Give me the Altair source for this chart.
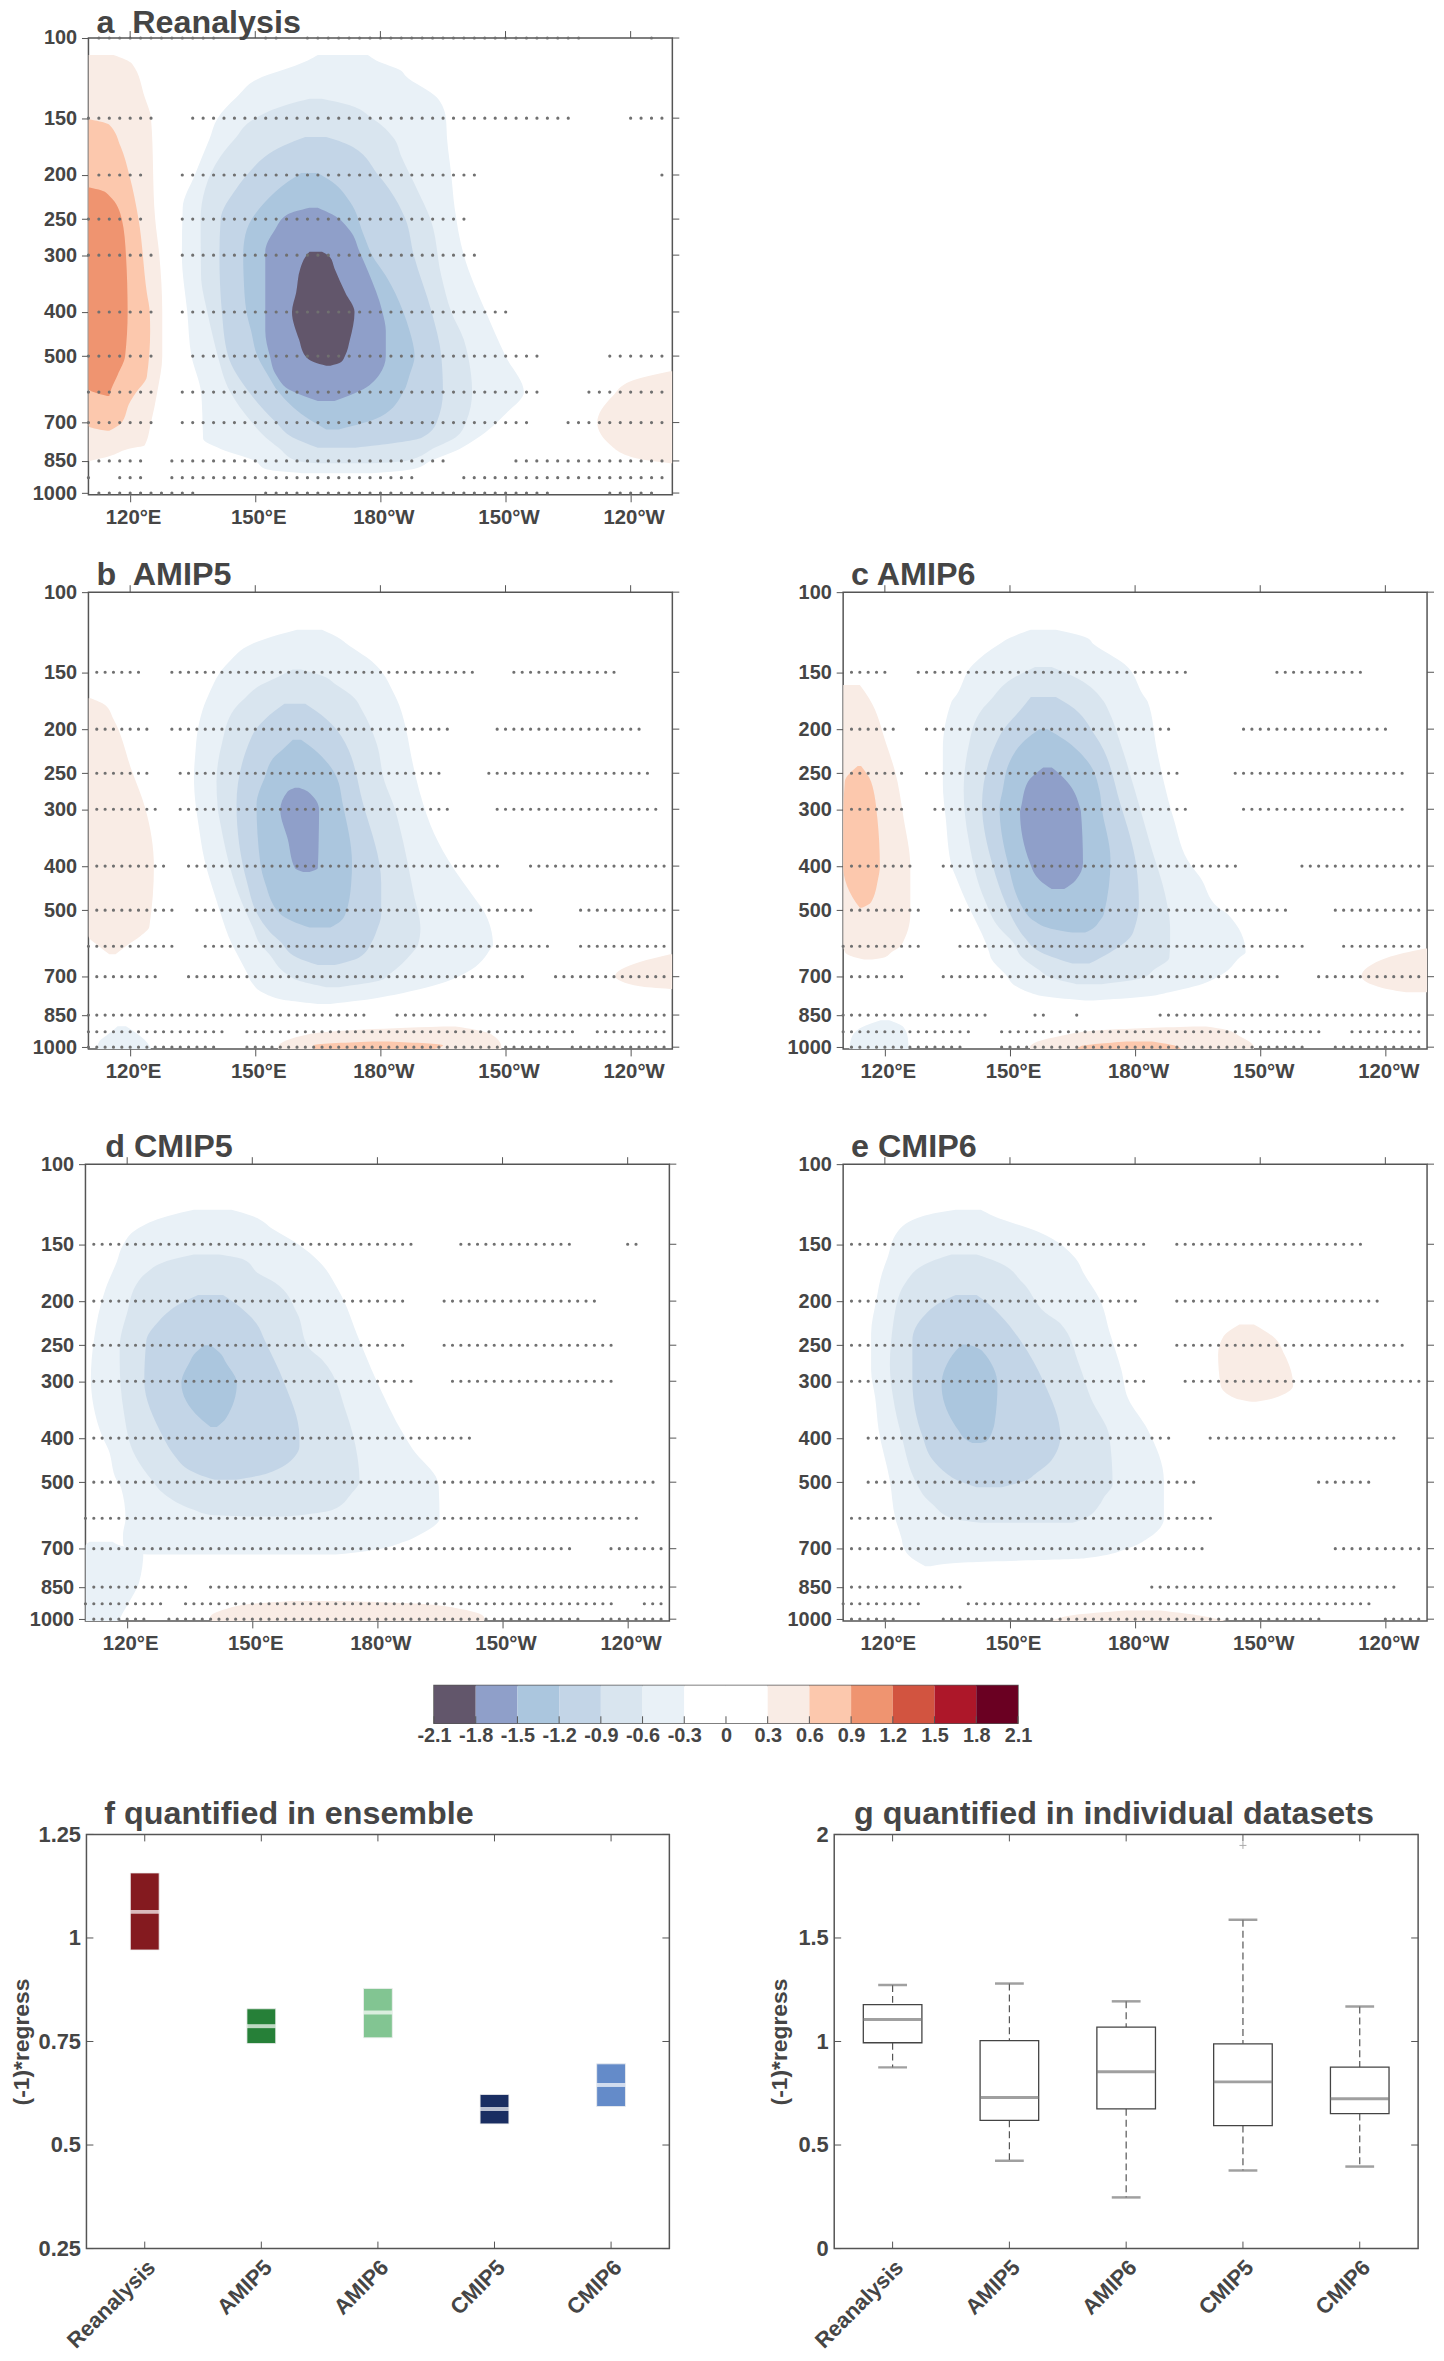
import altair as alt
import pandas as pd

FONT = "Liberation Sans"
INK = "#454545"
FRAME = "#555555"
W = 588
H = 460

P_TICKS = [100, 150, 200, 250, 300, 400, 500, 700, 850, 1000]
LON_TICKS = [120, 150, 180, 210, 240]

# contour colours
N3, N6, N9, N12, N15, N18 = "#e9f1f7", "#d9e5ef", "#c3d5e7", "#abc6de", "#8f9fc9", "#62566b"
P3, P6, P9, P12, P15, P18 = "#f9ece5", "#fcc8ad", "#ef9470", "#d25440", "#ad1729", "#6a0022"
BAR_COLORS = [N18, N15, N12, N9, N6, N3, "#ffffff", "#ffffff", P3, P6, P9, P12, P15, P18]
BAR_EDGES = [-2.1, -1.8, -1.5, -1.2, -0.9, -0.6, -0.3, 0, 0.3, 0.6, 0.9, 1.2, 1.5, 1.8, 2.1]

# contours: rows are (pressure, west lon, east lon)
A_CONTOURS = [
 (P3, [(109,110,116),(114,110,120.5),(135,110,123.5),(150,110,125),(250,110,126),(300,110,127),(400,110,127.7),(500,110,127.7),(600,110,126.5),(700,110,125),(785,110,123.5),(800,110,119.5),(830,110,115),(850,110,110.3)]),
 (P6, [(151,110,110.5),(155,110,115),(173,110,117.7),(200,110,119.8),(250,110,122),(363,110,124),(400,110,124.7),(440,110,124.8),(555,110,124),(600,110,121.5),(630,110,120),(705,110,117.7),(712,110,117),(730,114.5,115)]),
 (P9, [(213,110,110.3),(216,110,113),(222,110,115),(250,110,118),(300,110,119),(400,110,119.4),(500,110,118.8),(550,110,117),(590,110,115.5),(612,114.5,115)]),
 (P3, [(540,249.5,250),(568,240,250),(612,235.7,250),(700,232,250),(785,235.2,250),(840,241.6,250),(860,249.5,250)]),
 (N3, [(109,165,177),(112,162.6,179),(118,156,185),(121,152.4,186),(135,145.5,193.5),(150,141,195.7),(167,139,196),(200,135.5,197),(236,132.6,197.8),(300,132.4,200),(400,133.7,205.3),(500,134.7,210),(600,137,214.4),(670,137.3,210),(760,137.5,203),(800,141.7,199),(850,150,192),(885,152.4,188),(905,162,178)]),
 (N6, [(136,163,166),(140,157.8,172),(150,150,178),(167,145,183.4),(182,141.7,185),(214,138,188.7),(250,136.9,192),(333,137,194.6),(400,138.5,197),(460,140,200),(500,141,201),(600,144,202),(700,149.2,200.5),(755,152.5,198),(795,155.6,193),(850,160,186),(860,165,178)]),
 (N9, [(165,162,167),(172,157,172.6),(200,148,179.5),(214,145.5,182),(250,141.7,186),(300,141.4,188),(400,142,192.3),(500,143.5,194.6),(600,148.5,195),(700,155,193.5),(755,159,190),(795,165,174)]),
 (N12, [(198,161,165),(207,157.8,168.4),(229,152.4,172.7),(271,147.6,176),(300,147.1,178),(333,147.2,181.3),(400,147.9,185.5),(440,149,187),(500,150.5,188.2),(550,153,187),(600,155.6,185.5),(680,162,180),(725,167,170)]),
 (N15, [(236,163,165),(244,157.8,168.4),(265,154.6,172.7),(295,152.4,175),(325,152.4,177),(400,152.4,180.5),(440,152.4,181.3),(500,153.5,181.3),(550,155,179.7),(597,158.8,175),(628,165,169)]),
 (N18, [(295,163,166),(303,162,167.9),(321,160.8,169),(363,159.8,171.6),(400,158.8,173.8),(460,160.5,172.7),(500,162,171.5),(515,164,170.6),(525,167,168)]),
]
B_CONTOURS = [
 (P3, [(171,110,110.5),(177,110,114),(190,110,116),(247,110,120.4),(298,110,123.6),(400,110,125.7),(544,110,124.6),(570,110,122.5),(600,112.5,119),(625,115,116.5)]),
 (P3, [(625,249.5,250),(650,242.2,250),(698,236.3,250),(735,242.2,250),(745,249.5,250)]),
 (P3, [(901,195,198),(917,174,203),(936,163,206.5),(1000,155.5,209),(1009,155.5,209)]),
 (P6, [(972,178,182),(990,164,195),(1009,164,193)]),
 (N3, [(900,117,119),(925,115.5,121),(975,112.5,124),(1009,112,125)]),
 (N3, [(121,160,166),(127,152,170.6),(130,149.2,172),(142,143.8,178),(168,138.8,183.4),(207,136,186.5),(222,135.7,187.1),(255,135.3,188.5),(293,135.7,190.3),(325,136.4,192),(387,137.8,196.2),(476,140.7,203),(502,141.5,204.8),(596,144.5,207),(606,144.9,206.5),(686,148,200.5),(722,149.2,195),(760,152,185.5),(790,158,175),(804,165,168)]),
 (N6, [(148,159,161),(153,155.8,166.3),(160,151.3,169.5),(171,147.5,173.8),(181,144.9,175.5),(215,142,179.1),(261,140.7,181),(298,141,183.4),(325,141.7,184.5),(461,146,188),(548,149.5,189.6),(596,151.3,189),(619,153,187.7),(693,157.8,182),(712,160,180.2),(738,167,170)]),
 (N9, [(176,157,162),(190,152.4,167),(207,149.2,170.6),(293,145.5,175.9),(437,148.1,180.2),(510,150.5,180.2),(558,153.5,179),(586,156,178),(635,160,174.9),(660,165,169)]),
 (N12, [(211,159,161),(222,156.5,164.2),(230,154.6,166),(255,152.3,169.5),(293,150.3,171),(394,151.2,173.2),(437,152.4,173),(510,156,171.6),(528,158.8,170.5),(546,163,168)]),
 (N15, [(269,159.5,160.5),(274,157.8,162.5),(301,156,165.3),(349,157.8,165.2),(404,159.5,165),(412,161.5,163)]),
]
C_CONTOURS = [
 (P3, [(160,110,114),(171,110,116.2),(215,110,120.3),(247,110,122.4),(314,110,124.5),(400,110,126.1),(510,110,126.1),(596,110,124),(619,110.5,121.5),(635,113,119.8),(642,115,117)]),
 (P6, [(241,113.5,114.3),(261,110.4,116.7),(314,110,118.2),(400,110,118.8),(430,110.5,118.3),(480,113,116.7),(494,114,114.5)]),
 (P3, [(607,249.5,250),(636,240.4,250),(698,234.3,250),(741,239.3,250),(757,245,250)]),
 (P3, [(901,194,197),(917,172.5,202),(945,162.1,205),(1000,154.8,208.5),(1009,154.8,208.5)]),
 (P6, [(972,178,184),(995,167,190),(1009,166,191)]),
 (N3, [(873,119,121),(904,114.5,124.5),(954,112,125.5),(1009,111.5,125.7)]),
 (N3, [(121,155,161),(126,150,168.4),(130,147.5,170),(144,141.2,177.5),(168,137.2,181.9),(174,136,183),(222,133.9,185.2),(264,133.9,187),(314,134.6,189.2),(400,136,193.5),(422,137,195.5),(494,140.2,200),(511,141,202.3),(618,145,206.5),(636,145.4,205),(693,149,200.7),(736,151.6,194),(757,154.5,188.2),(775,159,182),(790,168,170)]),
 (N6, [(146,156,160),(155,150.5,166.3),(174,145,172.5),(181,143.3,173.5),(215,140.2,176.5),(274,138.9,180),(355,140.2,183.5),(476,144,187.5),(548,147.5,188.4),(586,150.6,188.4),(636,153,188.2),(676,156.9,184.5),(704,160,181.9),(727,166,172)]),
 (N9, [(170,155,161),(177,153.5,164.2),(207,147.5,170.5),(293,143.3,176.5),(400,145.9,180.3),(484,149,180.9),(542,151.6,180),(574,153.5,178.8),(619,157.5,174),(655,165,169)]),
 (N12, [(200,157,159),(211,153.7,163.1),(234,150.1,168.4),(274,148.2,171.5),(298,147.5,172),(387,149.3,174.1),(510,154,172.5),(528,155.8,171.5),(552,161,169.4),(560,165,168)]),
 (N15, [(243,158,160),(247,157,161),(261,154.3,163.7),(298,152.6,166.8),(303,152.4,167),(394,154.8,167.5),(430,157.2,165.7),(449,160,163)]),
]
D_CONTOURS = [
 (P3, [(912,159.7,171.4),(925,150,190),(950,143.7,200),(992,139.9,205.6),(1010,139.9,205.6)]),
 (N3, [(676,111,116.5),(690,110,118.5),(707,110,123.9),(834,110,122.8),(893,110,121.2),(1000,110,118.2),(1010,110,118)]),
 (N3, [(126,136,145),(130,129.8,150),(139,122.3,155),(150,119.1,161),(164,117.5,166.1),(188,114.8,170.5),(244,112,175.7),(295,111.3,179.5),(396,114,186.5),(424,115.5,188.5),(496,117.5,194.4),(513,118.5,194.7),(600,119.6,194.9),(653,119,190),(676,119,186.4),(707,120,178),(721,125,170)]),
 (N6, [(158,136,142),(162,130.8,147.9),(174,124.4,151.5),(182,122.5,155.4),(212,120,160.7),(253,118.2,163.5),(270,118.2,166.9),(351,119.2,172.5),(439,122,175.2),(496,126,175.7),(532,129,173.6),(575,136,169.3),(590,140,162),(595,150,158)]),
 (N9, [(194,137,143),(202,133,145.8),(224,127.1,151),(244,124.6,153),(300,124.1,157.5),(396,128.5,161.3),(417,129.8,161.3),(439,131.5,160.2),(471,135.1,155.4),(480,137,153),(494,141,146)]),
 (N12, [(250,138.5,140),(262,136,142.6),(271,135.1,143.5),(303,133,146.3),(362,137.5,143.7),(378,140,141.5)]),
]
E_CONTOURS = [
 (P3, [(225,205,208.5),(239,201.2,213),(262,199.9,215.8),(306,200.5,217.9),(327,204,213.2),(333,208,209)]),
 (P3, [(957,178,186),(980,165,195),(1010,160,202)]),
 (N3, [(126,137,143),(130,129.2,146),(141,123,156.9),(161,120.6,165.7),(174,119.3,167.7),(198,118,171.5),(236,116.7,174),(283,116.7,176.7),(327,117.7,178.3),(383,118.5,183),(496,121.2,186.9),(600,122.5,186.9),(665,124,183),(696,124.5,178.8),(735,126.5,168),(750,128,140),(765,129.7,131)]),
 (N6, [(158,136,142),(164,130.8,147),(182,125,153),(212,122.4,158.5),(224,122,162.1),(276,121.2,166.6),(327,122,169.4),(396,124,173.8),(505,127.7,174.6),(540,129.7,172.5),(560,131.5,171.5),(600,136,168),(614,143,165)]),
 (N9, [(194,137,142),(200,133.9,144),(214,129.7,147.5),(244,126.6,152.5),(300,126.6,158),(396,129,162.1),(447,131.5,160),(480,135,156),(496,137.5,153.7),(513,142,148)]),
 (N12, [(249,138.5,140),(257,137,143.3),(306,133.6,147),(371,136.5,146.3),(383,137.5,145.9),(407,140.2,144.3),(410,141,143)]),
]

# stippling: (pressure, first dot lon, last dot lon)
A_DOTS = [(100,112.5,142.5),(100,152.5,157.5),(100,162.5,230),(100,245,247.5),(150,110,127.5),(150,135,227.5),(150,240,250),
 (200,112.5,125),(200,132.5,205),(200,247.5,250),(250,110,125),(250,132.5,202.5),(300,110,127.5),(300,132.5,205),
 (400,112.5,127.5),(400,132.5,212.5),(500,110,127.5),(500,135,220),(500,235,250),(600,110,127.5),(600,132.5,220),(600,230,250),
 (700,110,127.5),(700,132.5,217.5),(700,225,250),(850,112.5,125),(850,130,197.5),(850,212.5,250),
 (925,110,112.5),(925,117.5,125),(925,130,190),(925,200,250),(1000,112.5,137.5),(1000,152.5,222.5),(1000,235,247.5)]
B_DOTS = [(150,112,124),(150,130,204),(150,212,238),(200,112,126),(200,130,198),(200,208,244),(250,112,126),(250,132,196),(250,206,246),
 (300,112,128),(300,132,198),(300,208,248),(400,112,130),(400,134,210),(400,216,250),(500,112,132),(500,136,218),(500,228,250),
 (600,110,132),(600,138,222),(600,228,250),(700,112,128),(700,134,216),(700,222,250),(850,110,178),(850,184,250),
 (925,110,144),(925,148,228),(925,232,250),(1000,110,142),(1000,148,222),(1000,226,250)]
C_DOTS = [(150,112,122),(150,128,194),(150,214,236),(200,112,124),(200,130,190),(200,206,242),(250,112,126),(250,130,192),(250,204,246),
 (300,112,126),(300,132,194),(300,206,246),(400,112,128),(400,134,206),(400,220,250),(500,112,130),(500,136,218),(500,228,250),
 (600,110,130),(600,138,222),(600,230,250),(700,112,126),(700,134,216),(700,224,250),(850,110,146),(850,156,160),(850,166,168),(850,186,250),
 (925,110,142),(925,148,226),(925,232,250),(1000,112,140),(1000,148,222),(1000,228,250)]
D_DOTS = [(150,112,190),(150,200,228),(150,240,244),(200,112,188),(200,196,234),(250,112,188),(250,196,238),(300,112,190),(300,198,238),
 (400,112,204),(500,112,248),(600,110,244),(700,112,228),(700,236,250),(850,112,136),(850,140,250),
 (925,110,130),(925,134,238),(925,244,250),(1000,112,126),(1000,130,230),(1000,234,250)]
E_DOTS = [(150,112,184),(150,190,236),(200,112,182),(200,190,240),(250,112,182),(250,190,246),(300,112,184),(300,192,250),
 (400,116,190),(400,198,244),(500,116,196),(500,224,238),(600,112,200),(700,112,198),(700,228,250),(850,112,140),(850,184,244),
 (925,110,130),(925,140,238),(1000,112,124),(1000,134,226),(1000,240,250)]

GROUPS = ["Reanalysis", "AMIP5", "AMIP6", "CMIP5", "CMIP6"]
ENS_TOP = [1.157, 0.829, 0.878, 0.622, 0.696]
ENS_MID = [1.063, 0.787, 0.820, 0.587, 0.645]
ENS_BOT = [0.971, 0.745, 0.759, 0.551, 0.593]
ENS_COLORS = ["#841a1f", "#268038", "#82c592", "#1a2e62", "#648bc9"]

BOX_HIGH = [1.273, 1.28, 1.194, 1.588, 1.169]
BOX_Q3 = [1.178, 1.004, 1.069, 0.989, 0.876]
BOX_MED = [1.106, 0.729, 0.854, 0.805, 0.724]
BOX_Q1 = [0.994, 0.619, 0.675, 0.594, 0.652]
BOX_LOW = [0.875, 0.424, 0.247, 0.377, 0.396]
OUTLIER_GROUP = ["CMIP5"]
OUTLIER_VALUE = [1.947]

LON_SCALE = alt.Scale(domain=[110, 250], nice=False, zero=False)
P_SCALE = alt.Scale(type="log", domain=[100, 1009], reverse=True, nice=False)
LON_LABEL = "datum.value < 180 ? datum.value + '°E' : (datum.value == 180 ? '180°W' : (360 - datum.value) + '°W')"
AXIS_FONT = dict(labelFont=FONT, labelFontWeight="bold", labelColor=INK, tickColor=FRAME, domain=False, grid=False)
LON_AXIS = alt.Axis(title=None, values=LON_TICKS, labelExpr=LON_LABEL, tickSize=7, labelOffset=3, labelPadding=6, labelFlush=False, labelFontSize=20.5, **AXIS_FONT)
P_AXIS = alt.Axis(title=None, values=P_TICKS, format="d", tickSize=7, labelPadding=5, labelFontSize=20, **AXIS_FONT)


def title(text, dx, dy=12, size=32.5):
    return alt.TitleParams(text=text, anchor="start", dx=dx, dy=dy, offset=3, font=FONT, fontWeight="bold",
                           fontSize=size, color=INK, frame="group")


def spacer(w, h):
    return alt.Chart(pd.DataFrame({"a": [0]})).mark_point(opacity=0).encode(x=alt.value(0), y=alt.value(0)).properties(
        width=w, height=h, view=alt.ViewBackground(stroke=None))


def map_panel(contours, dots, gap, head, dx, dy=12, width=W, height=H):
    xe = alt.X("l:Q", scale=LON_SCALE, axis=LON_AXIS)
    ye = alt.Y("p:Q", scale=P_SCALE, axis=P_AXIS)
    layers = []
    for color, rows in contours:
        df = pd.DataFrame(rows, columns=["p", "l", "r"])
        layers.append(alt.Chart(df).mark_area(orient="horizontal", interpolate="monotone", color=color, clip=True).encode(
            x=xe, x2="r:Q", y=ye))
    df = pd.DataFrame(dots, columns=["p", "l", "r"])
    layers.append(alt.Chart(df).mark_rule(color="#707070", strokeWidth=3.2, strokeCap="round", strokeDash=[0.01, gap - 0.005]).encode(
        x=xe, x2="r:Q", y=ye))
    layers.append(alt.Chart(pd.DataFrame({"l": LON_TICKS})).mark_rule(color=FRAME, strokeWidth=1).encode(x=xe, y=alt.value(-7), y2=alt.value(0)))
    layers.append(alt.Chart(pd.DataFrame({"p": P_TICKS})).mark_rule(color=FRAME, strokeWidth=1).encode(y=ye, x=alt.value(width), x2=alt.value(width + 7)))
    return alt.layer(*layers).properties(width=width, height=height, title=title(head, dx, dy),
                                         view=alt.ViewBackground(stroke=FRAME, strokeWidth=1.5))


def inner_ticks(y_ticks, width, height, ye, xe):
    y_df = pd.DataFrame({"v": y_ticks})
    x_df = pd.DataFrame({"g": GROUPS})
    return [
        alt.Chart(y_df).mark_rule(color=FRAME).encode(y=ye, x=alt.value(0), x2=alt.value(7)),
        alt.Chart(y_df).mark_rule(color=FRAME).encode(y=ye, x=alt.value(width - 7), x2=alt.value(width)),
        alt.Chart(x_df).mark_rule(color=FRAME).encode(x=xe, y=alt.value(0), y2=alt.value(7)),
        alt.Chart(x_df).mark_rule(color=FRAME).encode(x=xe, y=alt.value(height - 7), y2=alt.value(height)),
    ]


PH = 417
X_BAND = alt.Scale(domain=GROUPS, paddingInner=0, paddingOuter=0)
GROUP_AXIS = alt.Axis(title=None, labelAngle=-45, labelAlign="right", labelBaseline="top", tickSize=0, labelPadding=8, labelFontSize=22, **AXIS_FONT)


def value_axis(ticks, title_x):
    return alt.Axis(title="(-1)*regress", values=ticks, labelExpr="'' + datum.value", tickSize=0, labelPadding=6, labelFontSize=22,
                    titleFont=FONT, titleFontSize=23, titleFontWeight="bold", titleColor=INK, titleX=title_x, **AXIS_FONT)


# panel f
F_Y = alt.Scale(domain=[0.25, 1.25], nice=False, zero=False)
F_TICKS = [0.25, 0.5, 0.75, 1, 1.25]
F_AXIS = value_axis(F_TICKS, -53)
f_df = pd.DataFrame({"g": GROUPS, "top": ENS_TOP, "mid": ENS_MID, "bot": ENS_BOT, "c": ENS_COLORS})
f_x = alt.X("g:N", scale=X_BAND, axis=GROUP_AXIS, sort=GROUPS)
f_bar = alt.Chart(f_df).mark_bar(size=29, stroke="#eeeeee", strokeWidth=0.8).encode(
    x=f_x, y=alt.Y("top:Q", scale=F_Y, axis=F_AXIS), y2="bot:Q", color=alt.Color("c:N", scale=None))
f_med = alt.Chart(f_df).mark_tick(color="#ffffff", size=29, thickness=4, orient="horizontal").encode(
    x=f_x, y=alt.Y("mid:Q", scale=F_Y, axis=F_AXIS))
f_ticks = inner_ticks(F_TICKS, 587, PH, alt.Y("v:Q", scale=F_Y, axis=F_AXIS), f_x)
panel_f = alt.layer(f_bar, f_med, *f_ticks).properties(
    width=587, height=PH, title=title("f quantified in ensemble", 18, 10),
    view=alt.ViewBackground(stroke=FRAME, strokeWidth=1.5))

# panel g
G_Y = alt.Scale(domain=[0, 2], nice=False)
G_TICKS = [0, 0.5, 1, 1.5, 2]
G_AXIS = value_axis(G_TICKS, -43)
g_df = pd.DataFrame({"g": GROUPS, "high": BOX_HIGH, "q3": BOX_Q3, "med": BOX_MED, "q1": BOX_Q1, "low": BOX_LOW})
g_x = alt.X("g:N", scale=X_BAND, axis=GROUP_AXIS, sort=GROUPS)


def g_y(field):
    return alt.Y(field, scale=G_Y, axis=G_AXIS)


g_w1 = alt.Chart(g_df).mark_rule(color="#555555", strokeDash=[7, 4], strokeWidth=1.2).encode(x=g_x, y=g_y("high:Q"), y2="q3:Q")
g_w2 = alt.Chart(g_df).mark_rule(color="#555555", strokeDash=[7, 4], strokeWidth=1.2).encode(x=g_x, y=g_y("q1:Q"), y2="low:Q")
g_cap1 = alt.Chart(g_df).mark_tick(color="#777777", size=29, thickness=2.5, orient="horizontal").encode(x=g_x, y=g_y("high:Q"))
g_cap2 = alt.Chart(g_df).mark_tick(color="#777777", size=29, thickness=2.5, orient="horizontal").encode(x=g_x, y=g_y("low:Q"))
g_box = alt.Chart(g_df).mark_bar(size=59, fill="#ffffff", stroke="#444444", strokeWidth=1.3).encode(x=g_x, y=g_y("q3:Q"), y2="q1:Q")
g_med = alt.Chart(g_df).mark_tick(color="#777777", size=59, thickness=3, orient="horizontal").encode(x=g_x, y=g_y("med:Q"))
g_out = alt.Chart(pd.DataFrame({"g": OUTLIER_GROUP, "v": OUTLIER_VALUE})).mark_point(shape="M-1,0L1,0M0,-1L0,1", size=50, color="#888888", strokeWidth=1, filled=False).encode(x=g_x, y=g_y("v:Q"))
g_ticks = inner_ticks(G_TICKS, 588, PH, g_y("v:Q"), g_x)
panel_g = alt.layer(g_w1, g_w2, g_cap1, g_cap2, g_box, g_med, g_out, *g_ticks).properties(
    width=588, height=PH, title=title("g quantified in individual datasets", 20, 10),
    view=alt.ViewBackground(stroke=FRAME, strokeWidth=1.5))

# colour bar
cb_df = pd.DataFrame({"a": BAR_EDGES[:-1], "b": BAR_EDGES[1:], "c": BAR_COLORS})
CB_X = alt.Scale(domain=[-2.1, 2.1], nice=False, zero=False)
CB_AXIS = alt.Axis(title=None, values=BAR_EDGES, tickSize=0, labelPadding=2,
                   labelExpr="datum.value == 0 ? '0' : (datum.value < 0 ? '-' + format(-datum.value, '.1f') : format(datum.value, '.1f'))",
                   labelFlush=False, labelOverlap=False, labelFontSize=20, **AXIS_FONT)
cb_bar = alt.Chart(cb_df).mark_rect().encode(
    x=alt.X("a:Q", scale=CB_X, axis=CB_AXIS), x2="b:Q", color=alt.Color("c:N", scale=None))
cb_ticks = alt.Chart(pd.DataFrame({"a": BAR_EDGES})).mark_rule(color=FRAME).encode(
    x=alt.X("a:Q", scale=CB_X, axis=CB_AXIS), y=alt.value(31), y2=alt.value(38))
colorbar = alt.layer(cb_bar, cb_ticks).properties(width=588, height=38,
                                                  view=alt.ViewBackground(stroke=FRAME, strokeWidth=1.5))

panel_a = map_panel(A_CONTOURS, A_DOTS, 10.5, "a\u00a0 Reanalysis", 8, dy=14)
panel_b = map_panel(B_CONTOURS, B_DOTS, 8.4, "b\u00a0 AMIP5", 8)
panel_c = map_panel(C_CONTOURS, C_DOTS, 8.4, "c AMIP6", 8)
panel_d = map_panel(D_CONTOURS, D_DOTS, 8.4, "d CMIP5", 20)
panel_e = map_panel(E_CONTOURS, E_DOTS, 8.4, "e CMIP6", 8)


def row(*items):
    return alt.hconcat(*items, spacing=0, bounds="flush")


chart = alt.vconcat(
    row(spacer(4, 1), panel_a),
    spacer(1, 558),
    row(spacer(4, 1), panel_b, spacer(172, 1), panel_c),
    spacer(1, 576),
    row(spacer(1, 1), panel_d, spacer(175, 1), panel_e),
    spacer(1, 525),
    row(spacer(352, 1), colorbar),
    spacer(1, 150),
    row(spacer(2, 1), panel_f, spacer(166, 1), panel_g),
    spacing=0, bounds="flush",
).properties(padding={"left": 2, "top": -11, "right": 0, "bottom": 0}, background="#ffffff")

chart.save("out.html", embed_options={"renderer": "svg", "actions": False})
